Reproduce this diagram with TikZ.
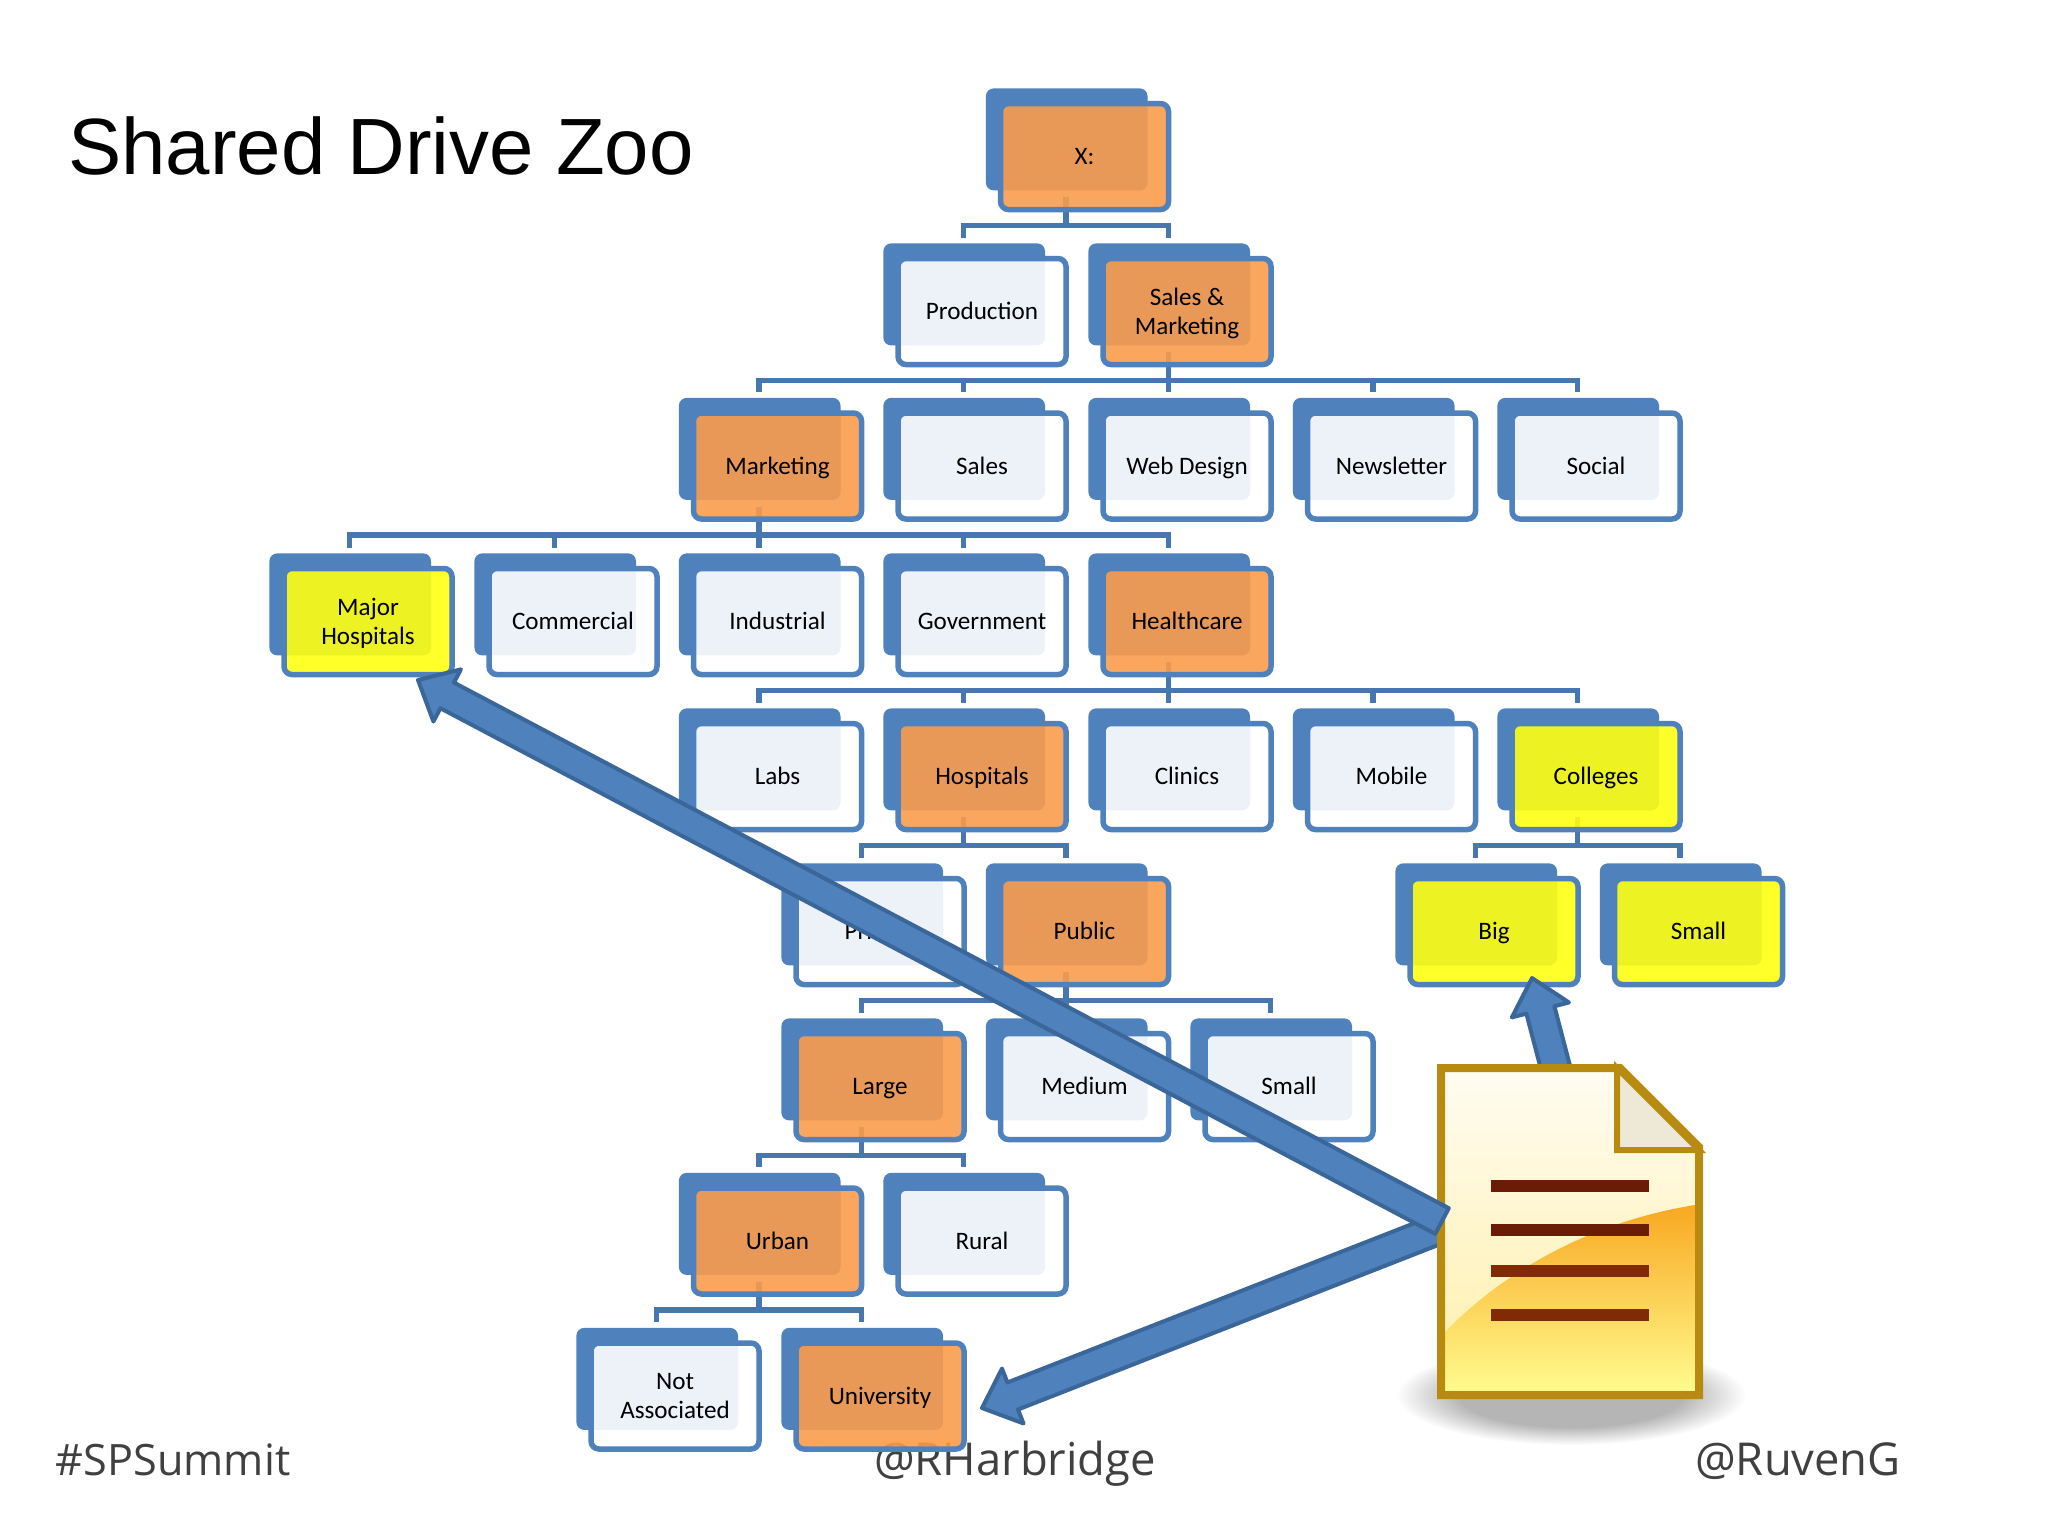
\documentclass[tikz,border=0pt]{standalone}
\usepackage{fontspec}
\setmainfont{Carlito}
\newfontfamily\titlefont{Liberation Sans}
\newfontfamily\footfont{Open Sans}
\usetikzlibrary{calc,shadows,backgrounds}
\definecolor{panelblue}{HTML}{4F81BD}
\definecolor{busblue}{HTML}{4877B0}
\definecolor{arrowedge}{HTML}{3A6699}
\definecolor{boxorange}{HTML}{F99C4C}
\definecolor{boxyellow}{HTML}{FFFF12}
\definecolor{footgray}{HTML}{404040}
\definecolor{docedge}{HTML}{B78A10}
\definecolor{docline}{HTML}{6A1C06}
\definecolor{doctop}{HTML}{FFFCF2}
\definecolor{docbottom}{HTML}{FFEFA8}
\definecolor{swooshtop}{HTML}{F9A821}
\definecolor{swooshmid}{HTML}{FFD960}
\definecolor{swooshend}{HTML}{FFFB8E}
\definecolor{docfold}{HTML}{EEE9D6}
\pgfdeclareradialshading{docshade}{\pgfpoint{0bp}{0bp}}{color(0bp)=(black!29);color(16bp)=(black!29);color(25bp)=(white);color(50bp)=(white)}
\newcommand{\liftstrut}{\rule{0pt}{7.2pt}}
\tikzset{
  plainbox/.style={draw=panelblue, line width=0.55mm, rounded corners=0.8mm, fill=white, fill opacity=0.9, text opacity=1,
    minimum width=16.8mm, minimum height=10.6mm, inner sep=0pt, align=center,
    font=\fontsize{7.15pt}{8.2pt}\selectfont,
    execute at begin node=\liftstrut, execute at end node=\strut,
    general shadow={shadow xshift=-1.85mm, shadow yshift=1.78mm, shadow scale=0.962, fill=panelblue, fill opacity=1}},
  orangebox/.style={plainbox, fill=boxorange},
  yellowbox/.style={plainbox, fill=boxyellow},
  bus/.style={draw=busblue, line width=0.55mm,
    to path={([xshift=-1.85mm,yshift=1.5mm]\tikztostart.south) -- ++(0,-28) -| ([xshift=-1.85mm,yshift=1.8mm]\tikztotarget.north)}},
  blockarrow/.style={draw=arrowedge, line width=0.4mm, fill=panelblue, line join=round,
    to path={($(\tikztotarget)!3.3mm!(\tikztostart)$) coordinate (neck)
      ($(\tikztostart)!1.45mm!-90:(\tikztotarget)$) -- ($(neck)!1.45mm!-90:(\tikztotarget)$)
      -- ($(neck)!2.95mm!-90:(\tikztotarget)$) -- (\tikztotarget) -- ($(neck)!2.95mm!90:(\tikztotarget)$)
      -- ($(neck)!1.45mm!90:(\tikztotarget)$) -- ($(\tikztostart)!1.45mm!90:(\tikztotarget)$) -- cycle}},
  footer/.style={font=\footfont\fontsize{12.9pt}{14pt}\selectfont, text=footgray, inner sep=0pt, anchor=base}
}
\begin{document}
\begin{tikzpicture}[x=0.1mm,y=0.1mm]
\useasboundingbox (0,0) rectangle (2048,-1536);

\node (Title) at (381,-146) [inner sep=0pt, font=\titlefont\fontsize{22.7pt}{26pt}\selectfont] {Shared Drive Zoo};
\node (Summit) at (173,-1475) [footer, font=\footfont\fontsize{12.3pt}{14pt}\selectfont] {\#SPSummit};
\node (Harbridge) at (1015,-1475) [footer] {@RHarbridge};
\node (Ruven) at (1798,-1475) [footer] {@RuvenG};

\node (X) at (1084.5,-156.5) [orangebox] {X:};
\node (Production) at (982,-311.5) [plainbox] {Production};
\node (SalesMkt) at (1187,-311.5) [orangebox] {\liftstrut Sales \&\\Marketing\strut};
\node (Marketing) at (777.5,-466) [orangebox] {Marketing};
\node (Sales) at (982,-466) [plainbox] {Sales};
\node (WebDesign) at (1187,-466) [plainbox] {Web Design};
\node (Newsletter) at (1391.5,-466) [plainbox] {Newsletter};
\node (Social) at (1596,-466) [plainbox] {Social};
\node (Major) at (368,-621.5) [yellowbox] {\liftstrut Major\\Hospitals\strut};
\node (Commercial) at (573,-621.5) [plainbox] {Commercial};
\node (Industrial) at (777.5,-621.5) [plainbox] {Industrial};
\node (Government) at (982,-621.5) [plainbox] {Government};
\node (Healthcare) at (1187,-621.5) [orangebox] {Healthcare};
\node (Labs) at (777.5,-776.5) [plainbox] {Labs};
\node (Hospitals) at (982,-776.5) [orangebox] {Hospitals};
\node (Clinics) at (1187,-776.5) [plainbox] {Clinics};
\node (Mobile) at (1391.5,-776.5) [plainbox] {Mobile};
\node (Colleges) at (1596,-776.5) [yellowbox] {Colleges};
\node (Private) at (880,-931.5) [plainbox] {Private};
\node (Public) at (1084.5,-931.5) [orangebox] {Public};
\node (Big) at (1494,-931.5) [yellowbox] {Big};
\node (SmallC) at (1698.5,-931.5) [yellowbox] {Small};
\node (Large) at (880,-1086.5) [orangebox] {Large};
\node (Medium) at (1084.5,-1086.5) [plainbox] {Medium};
\node (SmallP) at (1289,-1086.5) [plainbox] {Small};
\node (Urban) at (777.5,-1241) [orangebox] {Urban};
\node (Rural) at (982,-1241) [plainbox] {Rural};
\node (NotAssoc) at (675,-1396) [plainbox] {\liftstrut Not\\Associated\strut};
\node (University) at (880,-1396) [orangebox] {University};

\begin{scope}[on background layer]
\draw [bus] (X) to (Production);
\draw [bus] (X) to (SalesMkt);
\draw [bus] (SalesMkt) to (Marketing);
\draw [bus] (SalesMkt) to (Sales);
\draw [bus] (SalesMkt) to (WebDesign);
\draw [bus] (SalesMkt) to (Newsletter);
\draw [bus] (SalesMkt) to (Social);
\draw [bus] (Marketing) to (Major);
\draw [bus] (Marketing) to (Commercial);
\draw [bus] (Marketing) to (Industrial);
\draw [bus] (Marketing) to (Government);
\draw [bus] (Marketing) to (Healthcare);
\draw [bus] (Healthcare) to (Labs);
\draw [bus] (Healthcare) to (Hospitals);
\draw [bus] (Healthcare) to (Clinics);
\draw [bus] (Healthcare) to (Mobile);
\draw [bus] (Healthcare) to (Colleges);
\draw [bus] (Hospitals) to (Private);
\draw [bus] (Hospitals) to (Public);
\draw [bus] (Colleges) to (Big);
\draw [bus] (Colleges) to (SmallC);
\draw [bus] (Public) to (Large);
\draw [bus] (Public) to (Medium);
\draw [bus] (Public) to (SmallP);
\draw [bus] (Large) to (Urban);
\draw [bus] (Large) to (Rural);
\draw [bus] (Urban) to (NotAssoc);
\draw [bus] (Urban) to (University);
\end{scope}

\coordinate (BaseBig) at (1564,-1100);
\coordinate (TipBig) at (1532,-978);
\coordinate (BaseUniversity) at (1480,-1213);
\coordinate (TipUniversity) at (982,-1408);
\coordinate (BaseMajor) at (1442,-1221);
\coordinate (TipMajor) at (418,-680);

\draw [blockarrow] (BaseBig) to (TipBig);
\draw [blockarrow] (BaseUniversity) to (TipUniversity);

\shade [shading=docshade] (1571,-1395) ellipse (175 and 50);
\shade [top color=doctop, bottom color=docbottom]
  (1441,-1068) -- (1620,-1068) -- (1699,-1147) -- (1699,-1395) -- (1441,-1395) -- cycle;
\shade [top color=swooshtop, middle color=swooshmid, bottom color=swooshend]
  (1445,-1332) .. controls (1510,-1265) and (1600,-1220) .. (1695,-1205) -- (1695,-1391) -- (1445,-1391) -- cycle;
\draw [draw=docedge, line width=0.8mm] (1441,-1068) -- (1620,-1068) -- (1699,-1147) -- (1699,-1395) -- (1441,-1395) -- cycle;
\draw [draw=docedge, line width=0.6mm, fill=docfold] (1617,-1068) -- (1617,-1150) -- (1699,-1150) -- cycle;
\fill [docline] (1491,-1180) rectangle (1649,-1192);
\fill [docline] (1491,-1224) rectangle (1649,-1236);
\fill [docline!85!orange] (1491,-1265) rectangle (1649,-1277);
\fill [docline!85!orange] (1491,-1309) rectangle (1649,-1321);

\draw [blockarrow] (BaseMajor) to (TipMajor);

\end{tikzpicture}
\end{document}
